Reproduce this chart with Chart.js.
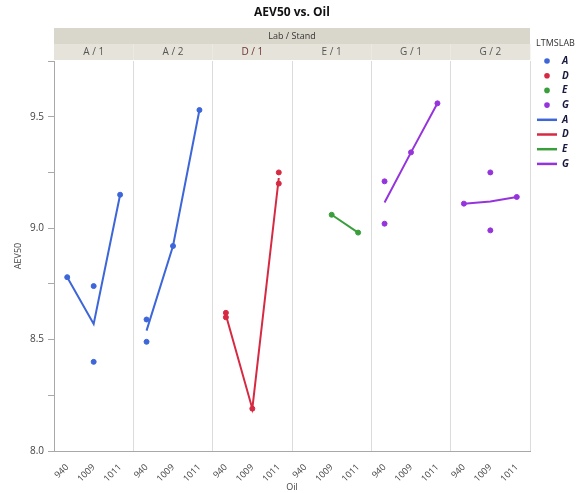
<!DOCTYPE html>
<html>
<head>
<meta charset="utf-8">
<script src="https://cdn.jsdelivr.net/npm/chart.js@4"></script>
<style>
  html, body { margin: 0; padding: 0; background: #fff; }
  #wrap { width: 584px; height: 493px; }
</style>
</head>
<body>
<div id="wrap"><canvas id="c" width="584" height="493"></canvas></div>
<script>
// Oil codes on the x axis of each panel
const oils = ['940', '1009', '1011'];
// Lab / Stand panels and the lab of each
const panels = ['A / 1', 'A / 2', 'D / 1', 'E / 1', 'G / 1', 'G / 2'];
const panelLab = ['A', 'A', 'D', 'E', 'G', 'G'];
// Labs and their colours
const labs = ['A', 'D', 'E', 'G'];
const labColors = ['#3d66d8', '#d62a42', '#3a9e3c', '#9634dc'];

// AEV50 results per panel, grouped by oil (940, 1009, 1011)
const aev_A1 = [[8.78], [8.74, 8.40], [9.15]];
const aev_A2 = [[8.59, 8.49], [8.92], [9.53]];
const aev_D1 = [[8.62, 8.60], [8.19], [9.25, 9.20]];
const aev_E1 = [[], [9.06], [8.98]];
const aev_G1 = [[9.21, 9.02], [9.34], [9.56]];
const aev_G2 = [[9.11], [9.25, 8.99], [9.14]];
const panelValues = [aev_A1, aev_A2, aev_D1, aev_E1, aev_G1, aev_G2];

const FONT = "'Open Sans', 'DejaVu Sans', sans-serif";
const nOil = oils.length;
const colorOf = lab => labColors[labs.indexOf(lab)];

// Scatter points: one dataset per lab
const pointSets = labs.map((lab, li) => {
  const data = [];
  panelValues.forEach((pv, pi) => {
    if (panelLab[pi] !== lab) return;
    pv.forEach((vals, oi) => vals.forEach(v => data.push({ x: pi * nOil + oi, y: v })));
  });
  return {
    type: 'scatter', label: lab, data,
    backgroundColor: labColors[li], borderColor: labColors[li],
    pointRadius: 2.5, pointHoverRadius: 3, showLine: false, order: 1
  };
});

// Mean lines: one dataset per panel
const lineSets = panelValues.map((pv, pi) => {
  const data = [];
  pv.forEach((vals, oi) => {
    if (!vals.length) return;
    const m = vals.reduce((a, b) => a + b, 0) / vals.length;
    data.push({ x: pi * nOil + oi, y: m });
  });
  const col = colorOf(panelLab[pi]);
  return {
    type: 'line', label: panels[pi], data,
    borderColor: col, backgroundColor: col, borderWidth: 2,
    pointRadius: 0, tension: 0, order: 2
  };
});

const tickValues = [];
for (let i = 0; i < panels.length * nOil; i++) tickValues.push(i);
const sepValues = [];
for (let i = 0; i <= panels.length; i++) sepValues.push(i * nOil - 0.5);

// Title, Lab / Stand strip and legend
const decor = {
  id: 'decor',
  afterDraw(chart) {
    const ctx = chart.ctx;
    const { left, right } = chart.chartArea;
    const xs = chart.scales.x;
    ctx.save();
    ctx.textAlign = 'center';
    ctx.textBaseline = 'middle';

    ctx.fillStyle = '#111';
    ctx.font = 'bold 12px ' + FONT;
    ctx.fillText('AEV50 vs. Oil', (left + right) / 2, 13);

    ctx.fillStyle = '#d9d7cb';
    ctx.fillRect(left, 28, right - left, 16);
    ctx.fillStyle = '#333';
    ctx.font = '9px ' + FONT;
    ctx.fillText('Lab / Stand', (left + right) / 2, 36);

    panels.forEach((p, i) => {
      const x0 = xs.getPixelForValue(i * nOil - 0.5);
      const x1 = xs.getPixelForValue(i * nOil + nOil - 0.5);
      ctx.fillStyle = '#e6e4da';
      ctx.fillRect(x0, 44, x1 - x0, 16);
      ctx.strokeStyle = '#f6f5f0';
      ctx.lineWidth = 1;
      ctx.beginPath();
      ctx.moveTo(Math.round(x1) + 0.5, 44);
      ctx.lineTo(Math.round(x1) + 0.5, 60);
      ctx.stroke();
      ctx.fillStyle = panelLab[i] === 'D' ? '#6e3434' : '#555';
      ctx.font = '10px ' + FONT;
      ctx.fillText(p, (x0 + x1) / 2, 52);
    });

    // Legend
    ctx.textAlign = 'left';
    ctx.fillStyle = '#333';
    ctx.font = '9px ' + FONT;
    ctx.fillText('LTMSLAB', 536, 43);
    const rowY = i => 61 + i * 14.7;
    labs.forEach((lab, li) => {
      const y = rowY(li);
      ctx.fillStyle = labColors[li];
      ctx.beginPath();
      ctx.arc(547, y, 2.8, 0, Math.PI * 2);
      ctx.fill();
      ctx.fillStyle = '#1a1a40';
      ctx.font = 'italic bold 10px ' + FONT;
      ctx.fillText(lab, 562, y);
    });
    labs.forEach((lab, li) => {
      const y = rowY(li + labs.length);
      ctx.strokeStyle = labColors[li];
      ctx.lineWidth = 2.5;
      ctx.beginPath();
      ctx.moveTo(537, y);
      ctx.lineTo(557, y);
      ctx.stroke();
      ctx.fillStyle = '#1a1a40';
      ctx.font = 'italic bold 10px ' + FONT;
      ctx.fillText(lab, 562, y);
    });
    ctx.restore();
  }
};

new Chart(document.getElementById('c'), {
  data: { datasets: [...lineSets, ...pointSets] },
  options: {
    responsive: false,
    animation: false,
    layout: { padding: { top: 61, right: 54, left: 0, bottom: 0 } },
    plugins: { legend: { display: false }, title: { display: false }, tooltip: { enabled: false } },
    scales: {
      x: {
        type: 'linear', min: -0.5, max: panels.length * nOil - 0.5,
        afterBuildTicks: s => { s.ticks = tickValues.map(v => ({ value: v })); },
        afterFit: s => { s.height = 42; },
        ticks: {
          autoSkip: false, maxRotation: 45, minRotation: 45, padding: 3,
          color: '#444', font: { family: FONT, size: 9 },
          callback: v => oils[((v % nOil) + nOil) % nOil]
        },
        grid: { display: false },
        border: { display: true, color: '#a8a8a8' },
        title: { display: true, text: 'Oil', color: '#444', font: { family: FONT, size: 9 }, padding: { top: 0, bottom: 0 } }
      },
      sep: {
        type: 'linear', position: 'bottom', min: -0.5, max: panels.length * nOil - 0.5,
        afterBuildTicks: s => { s.ticks = sepValues.map(v => ({ value: v })); },
        afterFit: s => { s.height = 0; },
        ticks: { display: false },
        grid: { display: true, drawTicks: false, color: '#dcdcdc', lineWidth: 1 },
        border: { display: false }
      },
      y: {
        min: 8.0, max: 9.75,
        afterBuildTicks: s => {
          const t = [];
          for (let v = 8.0; v <= 9.751; v += 0.25) t.push({ value: Math.round(v * 100) / 100 });
          s.ticks = t;
        },
        afterFit: s => { s.width = 54; },
        ticks: {
          color: '#444', font: { family: FONT, size: 10 }, padding: 4,
          callback: v => (Math.abs(v * 2 - Math.round(v * 2)) < 1e-6 && v < 9.7) ? v.toFixed(1) : ''
        },
        grid: { drawOnChartArea: false, drawTicks: true, tickLength: 6, color: '#a8a8a8' },
        border: { display: true, color: '#a8a8a8' },
        title: { display: true, text: 'AEV50', color: '#444', font: { family: FONT, size: 9 }, padding: { top: 13, bottom: 0 } }
      }
    }
  },
  plugins: [decor]
});
</script>
</body>
</html>
